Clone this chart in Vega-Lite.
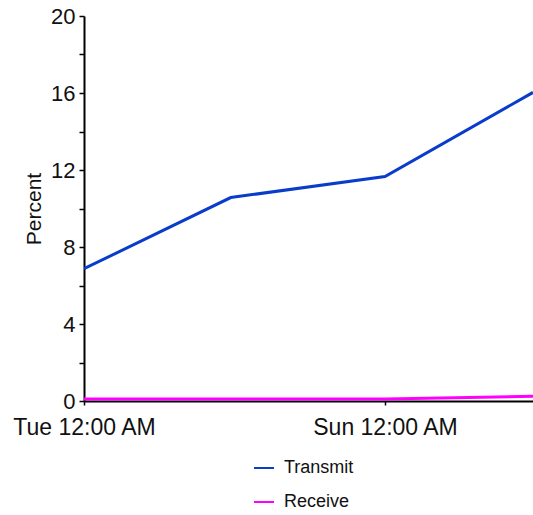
{
  "$schema": "https://vega.github.io/schema/vega-lite/v6.json",
  "autosize": {"type": "none"},
  "width": 449,
  "height": 385,
  "padding": {"left": 84, "top": 16, "right": 0, "bottom": 114},
  "background": "white",
  "config": {
    "view": {"stroke": null},
    "font": "Liberation Sans",
    "axis": {"grid": false, "domainColor": "#000", "tickColor": "#000", "labelColor": "#111", "titleColor": "#111", "domainWidth": 2, "tickWidth": 1.5}
  },
  "data": {
    "values": [
      {"time": "2009-03-03T00:00:00Z", "series": "Transmit", "percent": 6.87},
      {"time": "2009-03-05T10:30:00Z", "series": "Transmit", "percent": 10.57},
      {"time": "2009-03-08T00:00:00Z", "series": "Transmit", "percent": 11.66},
      {"time": "2009-03-10T11:00:00Z", "series": "Transmit", "percent": 16.03},
      {"time": "2009-03-03T00:00:00Z", "series": "Receive", "percent": 0.1},
      {"time": "2009-03-05T10:30:00Z", "series": "Receive", "percent": 0.1},
      {"time": "2009-03-08T00:00:00Z", "series": "Receive", "percent": 0.1},
      {"time": "2009-03-10T11:00:00Z", "series": "Receive", "percent": 0.25}
    ]
  },
  "mark": {"type": "line", "strokeWidth": 3, "clip": true},
  "encoding": {
    "x": {
      "field": "time",
      "type": "temporal",
      "scale": {"type": "utc", "nice": false},
      "axis": {
        "title": null,
        "values": [{"year": 2009, "month": 3, "date": 3, "utc": true}, {"year": 2009, "month": 3, "date": 8, "utc": true}],
        "labelExpr": "utcFormat(datum.value, '%a %I:%M %p')",
        "labelFontSize": 23,
        "labelPadding": 11,
        "tickSize": 4,
        "labelFlush": false,
        "labelOverlap": false
      }
    },
    "y": {
      "field": "percent",
      "type": "quantitative",
      "scale": {"domain": [0, 20], "nice": false, "zero": true},
      "axis": {
        "title": "Percent",
        "titleFontSize": 21,
        "titleFontWeight": "normal",
        "titlePadding": 6,
        "values": [0, 2, 4, 6, 8, 10, 12, 14, 16, 18, 20],
        "labelExpr": "datum.value % 4 == 0 ? datum.label : ''",
        "labelFontSize": 22,
        "labelPadding": 4,
        "tickSize": 5
      }
    },
    "color": {
      "field": "series",
      "type": "nominal",
      "scale": {"domain": ["Transmit", "Receive"], "range": ["#0a3ccc", "#ff00ff"]},
      "legend": {
        "title": null,
        "orient": "none",
        "legendX": 169,
        "legendY": 441,
        "padding": 0,
        "symbolType": "stroke",
        "symbolSize": 400,
        "symbolStrokeWidth": 2,
        "labelFontSize": 18,
        "labelOffset": 9,
        "labelColor": "#111",
        "rowPadding": 14
      }
    }
  }
}
